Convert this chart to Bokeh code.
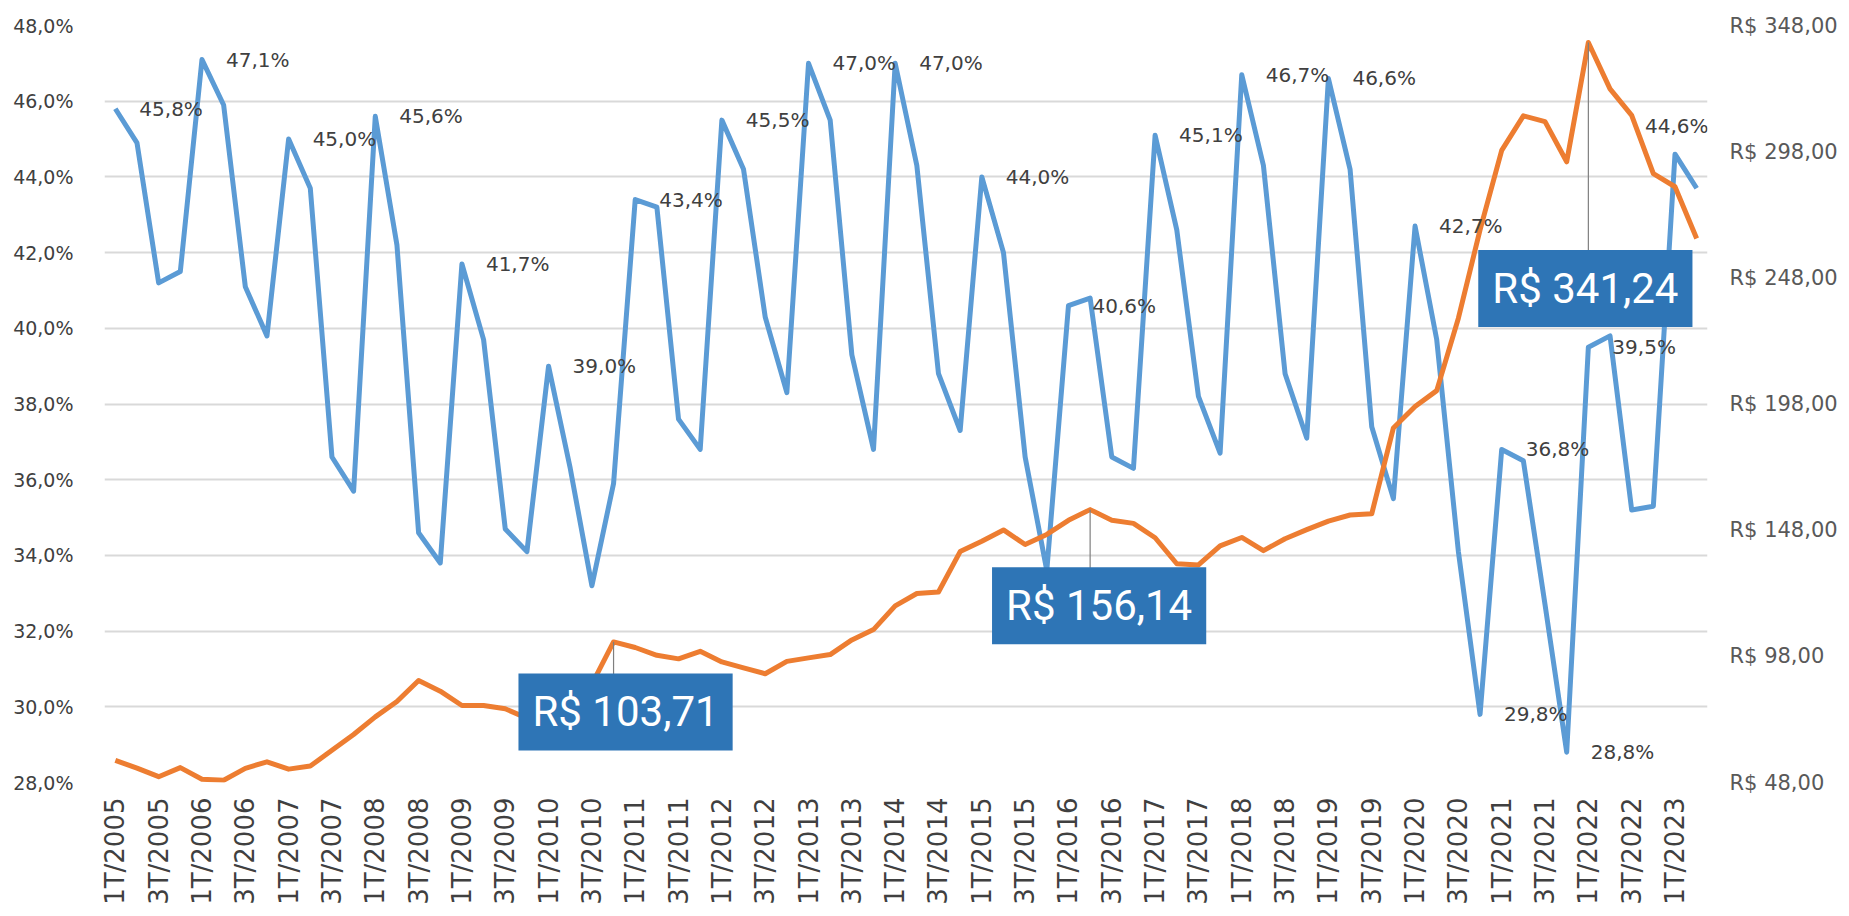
import math
from bokeh.plotting import figure
from bokeh.models import (FactorRange, Range1d, LinearAxis, FixedTicker,
                          ColumnDataSource, Label, CustomJSTickFormatter)
from bokeh.embed import file_html
from bokeh.resources import INLINE

# ---------------- data ----------------
quarters = [f"{q}T/{y}" for y in range(2005, 2024) for q in (1, 2, 3, 4)][:74]

share_pct = [
    45.8, 44.9, 41.2, 41.5, 47.1, 45.9, 41.1, 39.8,   # 2005-2006
    45.0, 43.7, 36.6, 35.7, 45.6, 42.2, 34.6, 33.8,   # 2007-2008
    41.7, 39.7, 34.7, 34.1, 39.0, 36.3, 33.2, 35.9,   # 2009-2010
    43.4, 43.2, 37.6, 36.8, 45.5, 44.2, 40.3, 38.3,   # 2011-2012
    47.0, 45.5, 39.3, 36.8, 47.0, 44.3, 38.8, 37.3,   # 2013-2014
    44.0, 42.0, 36.6, 33.6, 40.6, 40.8, 36.6, 36.3,   # 2015-2016
    45.1, 42.6, 38.2, 36.7, 46.7, 44.3, 38.8, 37.1,   # 2017-2018
    46.6, 44.2, 37.4, 35.5, 42.7, 39.7, 34.1, 29.8,   # 2019-2020
    36.8, 36.5, 32.7, 28.8, 39.5, 39.8, 35.2, 35.3,   # 2021-2022
    44.6, 43.7,                                       # 2023
]

value_rs = [
    56.8, 53.7, 50.3, 53.9, 49.3, 48.9, 53.6, 56.2,
    53.3, 54.5, 60.8, 67.0, 74.0, 80.1, 88.4, 84.2,
    78.5, 78.5, 77.2, 73.5, 75.0, 80.0, 87.0, 103.71,
    101.5, 98.4, 97.0, 100.0, 95.8, 93.4, 91.1, 96.0,
    97.4, 98.7, 104.5, 108.6, 118.0, 122.9, 123.5, 139.5,
    143.6, 148.1, 142.3, 146.3, 151.9, 156.14, 151.9, 150.7,
    145.0, 134.7, 134.2, 141.8, 145.1, 139.9, 144.6, 148.2,
    151.6, 154.0, 154.5, 188.5, 197.0, 203.3, 232.0, 267.0,
    298.5, 312.2, 309.9, 294.0, 341.24, 322.9, 312.4, 289.3,
    284.1, 263.6,
]

pct_ticks = [28, 30, 32, 34, 36, 38, 40, 42, 44, 46, 48]
rs_ticks = [48, 98, 148, 198, 248, 298, 348]

# points of the % series that carry a data label
pct_label_idx = [0, 4, 8, 12, 16, 20, 24, 28, 32, 36, 40, 44, 48, 52, 56,
                 60, 63, 64, 67, 68, 72]
# points of the R$ series that carry a callout box
callout_idx = [23, 45, 68]

# ---------------- styling / placement (pixels) ----------------
label_dx = [24] * len(pct_label_idx)
label_dy = [0] * len(pct_label_idx)
label_dx[-1] = -30    # 44,6% sits above its point, kept inside the frame
label_dy[-1] = 28
callout_dx = [12, 9, -3]
callout_dy = [70, 96, 246]

BLUE = "#5B9BD5"
ORANGE = "#ED7D31"
BOX = "#2E75B6"
FONT = "DejaVu Sans"

W, H = 1849, 916
MB_L, MB_R, MB_T, MB_B = 104, 142, 25, 134
frame_h = H - MB_T - MB_B


def fmt_pct(v):
    return f"{v:.1f}%".replace(".", ",")


def fmt_rs(v):
    return f"R$ {v:.2f}".replace(".", ",")


p = figure(width=W, height=H,
           x_range=FactorRange(factors=quarters, range_padding=0),
           y_range=Range1d(pct_ticks[0], pct_ticks[-1]),
           output_backend="svg", toolbar_location=None,
           min_border_left=MB_L, min_border_right=MB_R,
           min_border_top=MB_T, min_border_bottom=MB_B)
p.extra_y_ranges = {"rs": Range1d(rs_ticks[0], rs_ticks[-1])}
p.outline_line_color = None
p.background_fill_color = "white"
p.border_fill_color = "white"

# grid
p.xgrid.visible = False
p.ygrid.ticker = FixedTicker(ticks=pct_ticks)
p.ygrid.grid_line_color = "#d9d9d9"
p.ygrid.grid_line_width = 2


def plain_axis(ax):
    ax.axis_line_color = None
    ax.major_tick_line_color = None
    ax.minor_tick_line_color = None
    ax.major_tick_out = 0
    ax.major_tick_in = 0
    ax.minor_tick_out = 0
    ax.minor_tick_in = 0
    ax.axis_label_standoff = 0


# left axis
ya = p.yaxis[0]
plain_axis(ya)
ya.ticker = FixedTicker(ticks=pct_ticks)
ya.major_label_overrides = {t: f"{t},0%" for t in pct_ticks}
ya.major_label_standoff = 31
ya.major_label_text_font = FONT
ya.major_label_text_font_size = "19px"
ya.major_label_text_color = "#404040"

# right axis
ra = LinearAxis(y_range_name="rs", ticker=FixedTicker(ticks=rs_ticks))
plain_axis(ra)
ra.major_label_overrides = {t: fmt_rs(t) for t in rs_ticks}
ra.major_label_standoff = 22
ra.major_label_text_font = FONT
ra.major_label_text_font_size = "21px"
ra.major_label_text_color = "#595959"
p.add_layout(ra, "right")

# bottom axis: only 1T and 3T quarters are labelled
xa = p.xaxis[0]
plain_axis(xa)
xa.formatter = CustomJSTickFormatter(
    code="return (tick[0] == '1' || tick[0] == '3') ? tick : ' ';")
xa.major_label_orientation = math.pi / 2
xa.major_label_standoff = 15
xa.major_label_text_font = FONT
xa.major_label_text_font_size = "26px"
xa.major_label_text_color = "#404040"

# lines
src = ColumnDataSource(dict(q=quarters, pct=share_pct, rs=value_rs))
p.line(x="q", y="pct", source=src, line_color=BLUE, line_width=5,
       line_join="round")
p.line(x="q", y="rs", source=src, y_range_name="rs", line_color=ORANGE,
       line_width=5, line_join="round")

# pointer lines from callout points into their boxes
rs_per_px = (rs_ticks[-1] - rs_ticks[0]) / frame_h
p.segment(x0=[quarters[i] for i in callout_idx],
          y0=[value_rs[i] for i in callout_idx],
          x1=[quarters[i] for i in callout_idx],
          y1=[value_rs[i] - d * rs_per_px for i, d in zip(callout_idx, callout_dy)],
          y_range_name="rs", line_color="#7f7f7f", line_width=1.2)

# data labels of the % series (category k is centred at k + 0.5 in the
# factor range's synthetic coordinates)
for i, dx, dy in zip(pct_label_idx, label_dx, label_dy):
    p.add_layout(Label(x=i + 0.5, y=share_pct[i], text=fmt_pct(share_pct[i]),
                       x_offset=dx, y_offset=dy,
                       text_font=FONT, text_font_size="20px",
                       text_color="#404040", text_align="left",
                       text_baseline="middle"))

# callout boxes
for i, dx, dy in zip(callout_idx, callout_dx, callout_dy):
    p.add_layout(Label(x=i + 0.5, y=value_rs[i], y_range_name="rs",
                       x_offset=dx, y_offset=-dy, text=fmt_rs(value_rs[i]),
                       text_align="center", text_baseline="middle",
                       text_color="white", text_font="Roboto",
                       text_font_size="42px", background_fill_color=BOX,
                       padding=(14, 14, 14, 14)))

open("out.html", "w").write(file_html(p, INLINE))
